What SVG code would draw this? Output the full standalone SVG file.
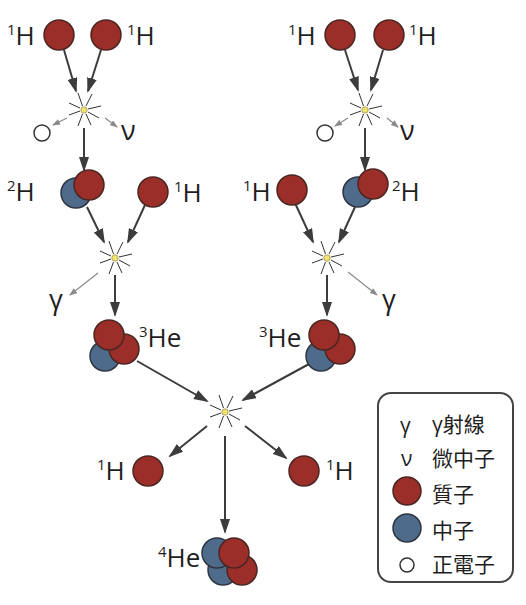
<svg xmlns="http://www.w3.org/2000/svg" xmlns:xlink="http://www.w3.org/1999/xlink" width="526" height="605" viewBox="0 0 526 605">
<style>
.p{fill:#9b2e28;stroke:#4a2622;stroke-width:1.5}
.n{fill:#4e6b8b;stroke:#2f3540;stroke-width:1.5}
.e{fill:#fff;stroke:#333;stroke-width:1.5}
.a{stroke:#3c3c3c;stroke-width:2;fill:none;marker-end:url(#ah)}
.g{stroke:#8a8a8a;stroke-width:1.2;fill:none;marker-end:url(#gh)}
.lbl{font-family:"Open Sans","Noto Sans",sans-serif;font-size:26px;fill:#1e1e1e}
.sup{font-size:15px}
.gr{font-family:"Open Sans","Noto Sans",sans-serif;font-size:27px;fill:#1e1e1e}
.lg{font-family:"Open Sans","Noto Sans CJK TC",sans-serif;font-size:21px;fill:#1e1e1e}
.lgs{font-family:"Open Sans","Noto Sans",sans-serif;font-size:21px;fill:#1e1e1e}
.ray{stroke:#333;stroke-width:1}
.dot{fill:#f3e36a;stroke:#9a9060;stroke-width:0.8}
</style>
<defs>
<marker id="ah" markerUnits="userSpaceOnUse" markerWidth="15" markerHeight="10" refX="13" refY="5" orient="auto"><path d="M0,0 L15,5 L0,10 z" fill="#3c3c3c"/></marker>
<marker id="gh" markerUnits="userSpaceOnUse" markerWidth="8" markerHeight="6" refX="7" refY="3" orient="auto"><path d="M0,0 L8,3 L0,6 z" fill="#8a8a8a"/></marker>
<g id="star">
<line class="ray" x1="-6" y1="-17" x2="-1.5" y2="-4"/>
<line class="ray" x1="8" y1="-16" x2="2" y2="-4"/>
<line class="ray" x1="17" y1="-4" x2="4" y2="-1"/>
<line class="ray" x1="15" y1="8" x2="4" y2="2"/>
<line class="ray" x1="7" y1="15" x2="2" y2="4"/>
<line class="ray" x1="-6" y1="16" x2="-1.5" y2="4"/>
<line class="ray" x1="-15" y1="5" x2="-4" y2="1"/>
<line class="ray" x1="-15" y1="-7" x2="-4" y2="-2"/>
<circle class="dot" r="3.2"/>
</g>
</defs>

<g id="connectors">
<line class="a" x1="64" y1="50" x2="76" y2="91"/>
<line class="a" x1="101" y1="50" x2="88" y2="91"/>
<line class="g" x1="67" y1="118" x2="53" y2="125"/>
<line class="g" x1="105" y1="118" x2="117" y2="127"/>
<line class="a" x1="84" y1="128" x2="84" y2="170"/>
<line class="a" x1="345" y1="50" x2="358" y2="90"/>
<line class="a" x1="383" y1="50" x2="371" y2="90"/>
<line class="g" x1="348" y1="118" x2="335" y2="126"/>
<line class="g" x1="387" y1="118" x2="398" y2="127"/>
<line class="a" x1="365" y1="128" x2="365" y2="170"/>
<line class="a" x1="87" y1="207" x2="104" y2="242"/>
<line class="a" x1="145" y1="205" x2="128" y2="242"/>
<line class="g" x1="98" y1="273" x2="70" y2="295"/>
<line class="a" x1="115" y1="275" x2="115" y2="315"/>
<line class="a" x1="295" y1="203" x2="313" y2="242"/>
<line class="a" x1="355" y1="207" x2="339" y2="242"/>
<line class="g" x1="348" y1="272" x2="377" y2="295"/>
<line class="a" x1="327" y1="275" x2="327" y2="315"/>
<line class="a" x1="137" y1="361" x2="207" y2="401"/>
<line class="a" x1="309" y1="364" x2="243" y2="400"/>
<line class="a" x1="207" y1="426" x2="170" y2="456"/>
<line class="a" x1="245" y1="426" x2="286" y2="458"/>
<line class="a" x1="225" y1="436" x2="225" y2="532"/>
</g>

<g id="stars">
<use xlink:href="#star" x="84" y="110"/>
<use xlink:href="#star" x="365" y="110"/>
<use xlink:href="#star" x="115" y="258"/>
<use xlink:href="#star" x="327" y="258"/>
<use xlink:href="#star" x="225" y="412"/>
</g>

<g id="h1-top-left-a"><circle class="p" cx="59" cy="35" r="15"/><text class="lbl" x="7" y="45"><tspan class="sup" dy="-10">1</tspan><tspan dy="10">H</tspan></text></g>
<g id="h1-top-left-b"><circle class="p" cx="106" cy="35" r="15"/><text class="lbl" x="127" y="45"><tspan class="sup" dy="-10">1</tspan><tspan dy="10">H</tspan></text></g>
<g id="h1-top-right-a"><circle class="p" cx="340" cy="35" r="15"/><text class="lbl" x="288" y="45"><tspan class="sup" dy="-10">1</tspan><tspan dy="10">H</tspan></text></g>
<g id="h1-top-right-b"><circle class="p" cx="389" cy="35" r="15"/><text class="lbl" x="409" y="45"><tspan class="sup" dy="-10">1</tspan><tspan dy="10">H</tspan></text></g>

<g id="positron-left"><circle class="e" cx="42" cy="133" r="8"/></g>
<g id="nu-left"><text class="gr" x="121" y="140">ν</text></g>
<g id="positron-right"><circle class="e" cx="325" cy="133" r="8"/></g>
<g id="nu-right"><text class="gr" x="400" y="140">ν</text></g>

<g id="h2-left"><circle class="n" cx="76" cy="193" r="15"/><circle class="p" cx="89" cy="185" r="15"/><text class="lbl" x="7" y="201"><tspan class="sup" dy="-10">2</tspan><tspan dy="10">H</tspan></text></g>
<g id="h1-mid-left"><circle class="p" cx="153" cy="192" r="15"/><text class="lbl" x="174" y="202"><tspan class="sup" dy="-10">1</tspan><tspan dy="10">H</tspan></text></g>
<g id="h1-mid-right"><circle class="p" cx="292" cy="190" r="15"/><text class="lbl" x="243" y="201"><tspan class="sup" dy="-10">1</tspan><tspan dy="10">H</tspan></text></g>
<g id="h2-right"><circle class="n" cx="358" cy="192" r="15"/><circle class="p" cx="373" cy="184" r="15"/><text class="lbl" x="392" y="201"><tspan class="sup" dy="-10">2</tspan><tspan dy="10">H</tspan></text></g>

<g id="gamma-left"><text class="gr" x="49" y="309">γ</text></g>
<g id="gamma-right"><text class="gr" x="382" y="309">γ</text></g>

<g id="he3-left"><circle class="n" cx="105" cy="356" r="15"/><circle class="p" cx="124" cy="349" r="15"/><circle class="p" cx="109" cy="335" r="15"/><text class="lbl" x="139" y="347"><tspan class="sup" dy="-10">3</tspan><tspan dy="10">He</tspan></text></g>
<g id="he3-right"><circle class="n" cx="321" cy="356" r="15"/><circle class="p" cx="340" cy="349" r="15"/><circle class="p" cx="324" cy="335" r="15"/><text class="lbl" x="259" y="347"><tspan class="sup" dy="-10">3</tspan><tspan dy="10">He</tspan></text></g>

<g id="h1-bottom-left"><circle class="p" cx="148" cy="471" r="15"/><text class="lbl" x="97" y="480"><tspan class="sup" dy="-10">1</tspan><tspan dy="10">H</tspan></text></g>
<g id="h1-bottom-right"><circle class="p" cx="304" cy="471" r="15"/><text class="lbl" x="326" y="480"><tspan class="sup" dy="-10">1</tspan><tspan dy="10">H</tspan></text></g>

<g id="he4"><circle class="n" cx="223" cy="570" r="15"/><circle class="p" cx="242" cy="570" r="15"/><circle class="n" cx="217" cy="553" r="15"/><circle class="p" cx="234" cy="553" r="15"/><text class="lbl" x="158" y="567"><tspan class="sup" dy="-10">4</tspan><tspan dy="10">He</tspan></text></g>

<g id="legend">
<rect x="378" y="393" width="135" height="189" rx="13" fill="#fff" stroke="#444" stroke-width="2"/>
<text class="lgs" x="400" y="433">γ</text>
<text class="lg" x="432" y="432">γ射線</text>
<text class="lgs" x="401" y="466">ν</text>
<text class="lg" x="432" y="466">微中子</text>
<circle class="p" cx="407" cy="491" r="14"/>
<text class="lg" x="432" y="502">質子</text>
<circle class="n" cx="407" cy="528" r="14"/>
<text class="lg" x="432" y="538">中子</text>
<circle class="e" cx="407" cy="565" r="7"/>
<text class="lg" x="432" y="572">正電子</text>
</g>
</svg>
